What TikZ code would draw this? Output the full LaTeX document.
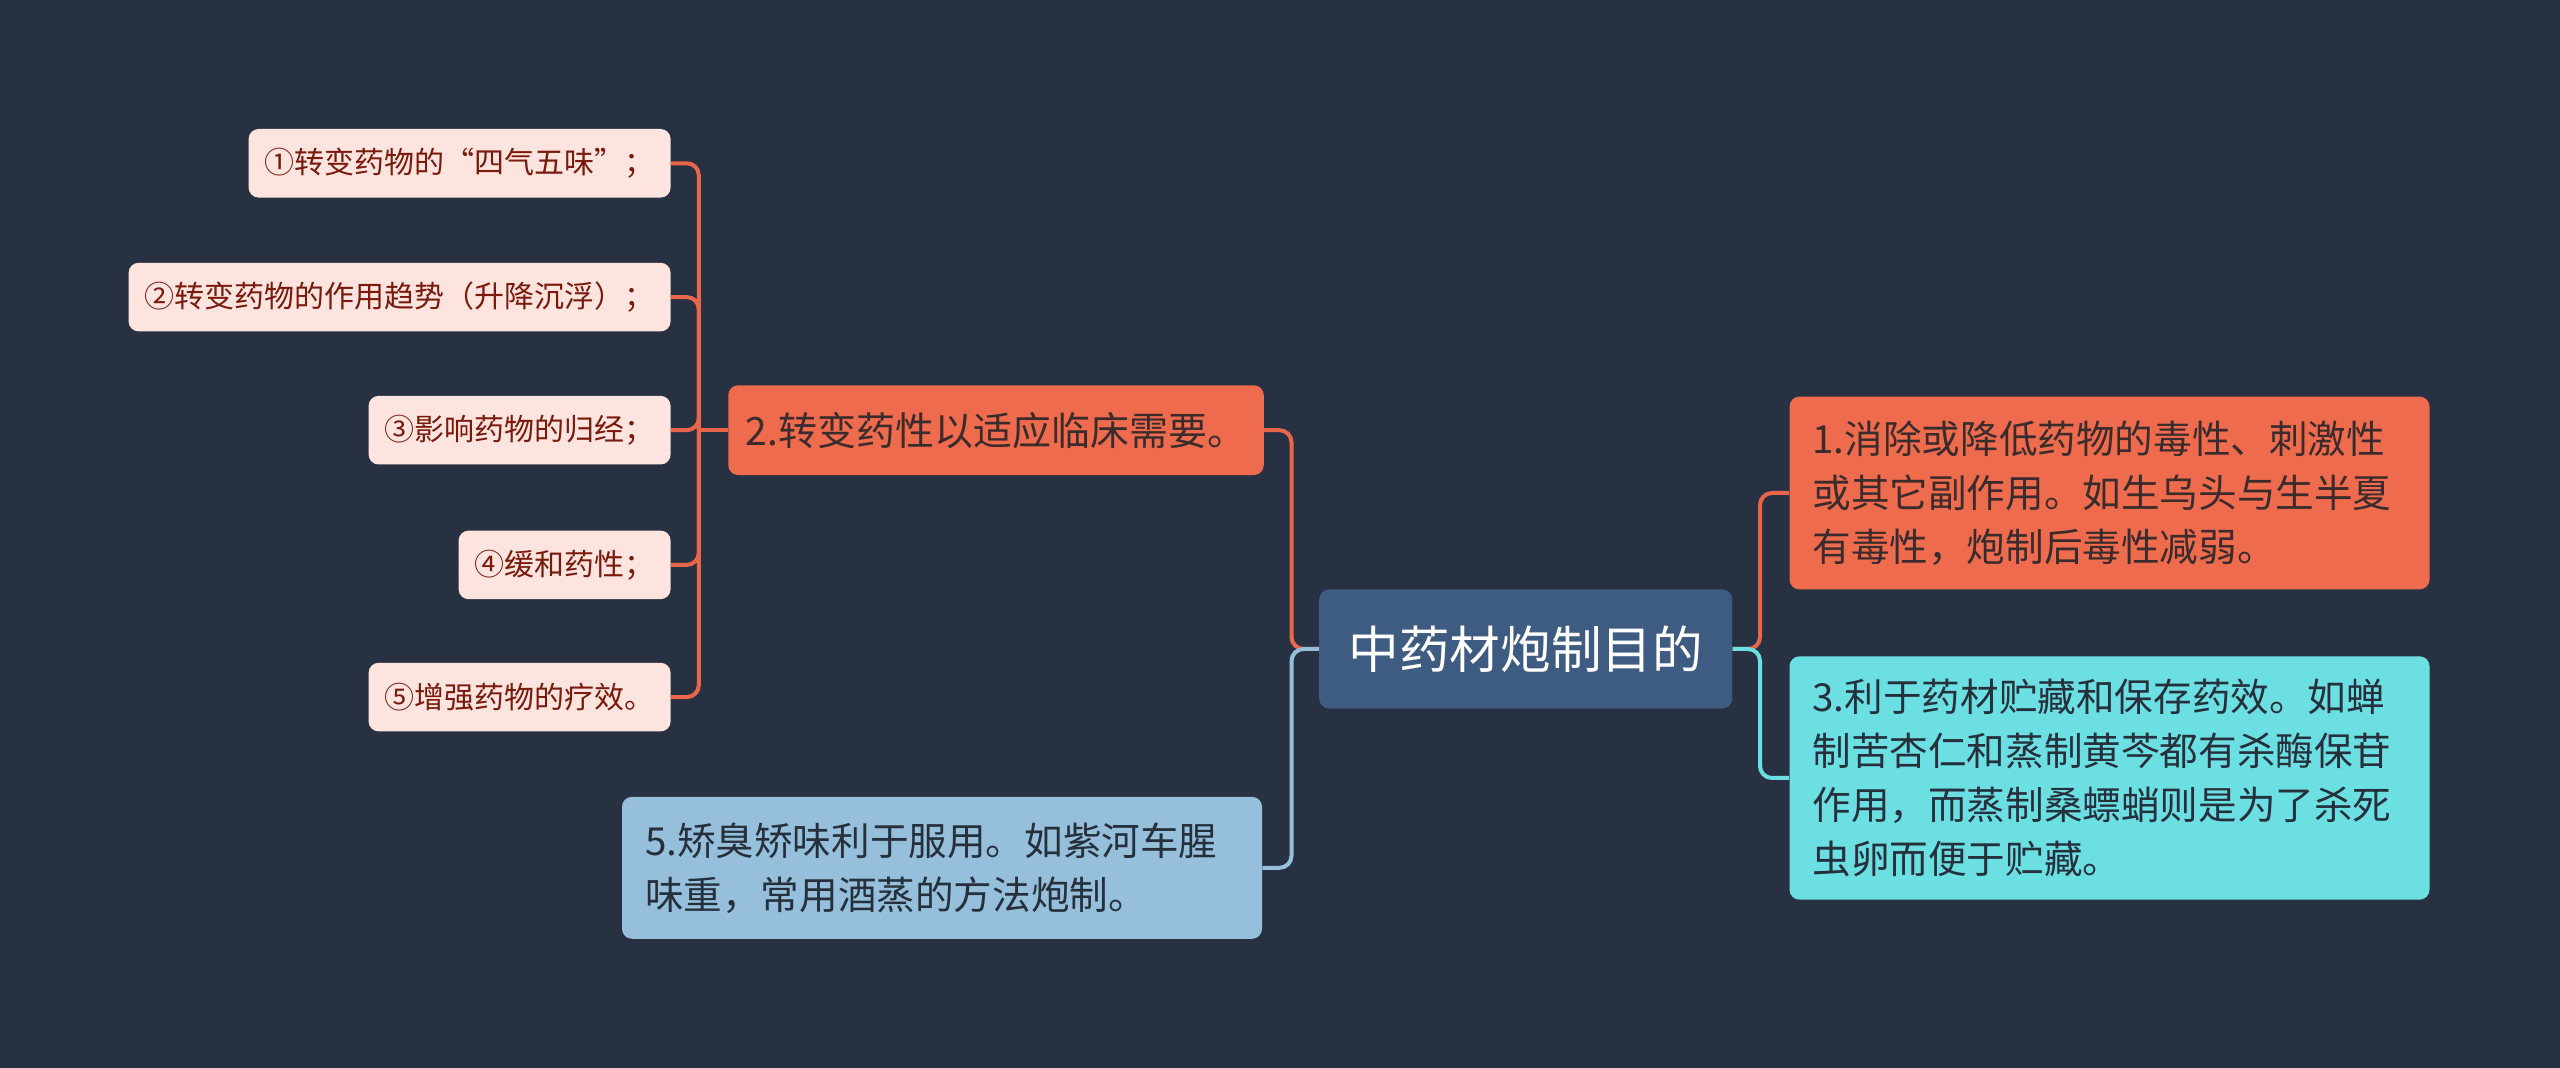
\documentclass[tikz,border=0pt]{standalone}
\usepackage{fontspec}
\setmainfont{Noto Sans CJK SC}
\usetikzlibrary{calc}
\definecolor{bg}{HTML}{283141}
\definecolor{cnode}{HTML}{3E5B81}
\definecolor{orng}{HTML}{EE6B4D}
\definecolor{leaff}{HTML}{FDE4DE}
\definecolor{leaft}{HTML}{7A1A0C}
\definecolor{darkt}{HTML}{3A2C2C}
\definecolor{darkb}{HTML}{26303C}
\definecolor{lblue}{HTML}{95BFDA}
\definecolor{cyanf}{HTML}{6CDFE3}
\definecolor{olin}{HTML}{E8664A}
\begin{document}
\begin{tikzpicture}[x=0.5pt,y=-0.5pt,
  box/.style={rounded corners=5pt, inner ysep=0pt},
  leaf/.style={box, fill=leaff, text=leaft, font=\fontsize{15}{18}\selectfont,
    minimum height=34.3pt, inner xsep=8pt, anchor=east},
  mainbox/.style={box, font=\fontsize{19.3}{27}\selectfont, align=left,
    text width=297pt, inner xsep=11.5pt, minimum width=320pt},
  conn/.style={line width=2pt, rounded corners=6pt},
  oline/.style={conn, draw=olin},
  bline/.style={conn, draw=lblue},
  cline/.style={conn, draw=cyanf}
]
\fill[bg] (0,0) rectangle (2560,1068);

% nodes
\node[box, fill=cnode, text=white, font=\fontsize{25.3}{30}\selectfont,
  minimum width=206.5pt, minimum height=59.6pt] (ctr) at (1525.7,649) {中药材炮制目的};

\node[box, fill=orng, text=darkt, font=\fontsize{19.5}{27}\selectfont,
  minimum width=267.75pt, minimum height=44.9pt] (two) at (996,430.2) {2.转变药性以适应临床需要。};

\node[mainbox, fill=lblue, text=darkb, minimum height=71pt] (five) at (942,867.8)
  {5.矫臭矫味利于服用。如紫河车腥\\味重，常用酒蒸的方法炮制。};

\node[mainbox, fill=orng, text=darkt, minimum height=96.4pt] (one) at (2109.5,493)
  {1.消除或降低药物的毒性、刺激性\\或其它副作用。如生乌头与生半夏\\有毒性，炮制后毒性减弱。};

\node[mainbox, fill=cyanf, text=darkb, minimum height=121.7pt] (three) at (2109.5,778)
  {3.利于药材贮藏和保存药效。如蝉\\制苦杏仁和蒸制黄芩都有杀酶保苷\\作用，而蒸制桑螵蛸则是为了杀死\\虫卵而便于贮藏。};

\node[leaf] (l1) at (671,163.3) {①转变药物的“四气五味”；};
\node[leaf] (l2) at (671,297.1) {②转变药物的作用趋势（升降沉浮）；};
\node[leaf] (l3) at (671,430.2) {③影响药物的归经；};
\node[leaf] (l4) at (671,564.9) {④缓和药性；};
\node[leaf] (l5) at (671,697.1) {⑤增强药物的疗效。};

% connectors
\coordinate (lj) at (698.8,430.2);
\draw[oline] (two.west) -- (lj);
\foreach \n in {l1,l2,l3,l4,l5} \draw[oline] (lj) |- (\n.east);

\coordinate (cl) at (1291.5,649);
\draw[oline] (ctr.west) -- (cl) |- (two.east);
\draw[bline] (ctr.west) -- (cl) |- (five.east);

\coordinate (cr) at (1760,649);
\draw[oline] (ctr.east) -- (cr) |- (one.west);
\draw[cline] (ctr.east) -- (cr) |- (three.west);
\end{tikzpicture}
\end{document}
